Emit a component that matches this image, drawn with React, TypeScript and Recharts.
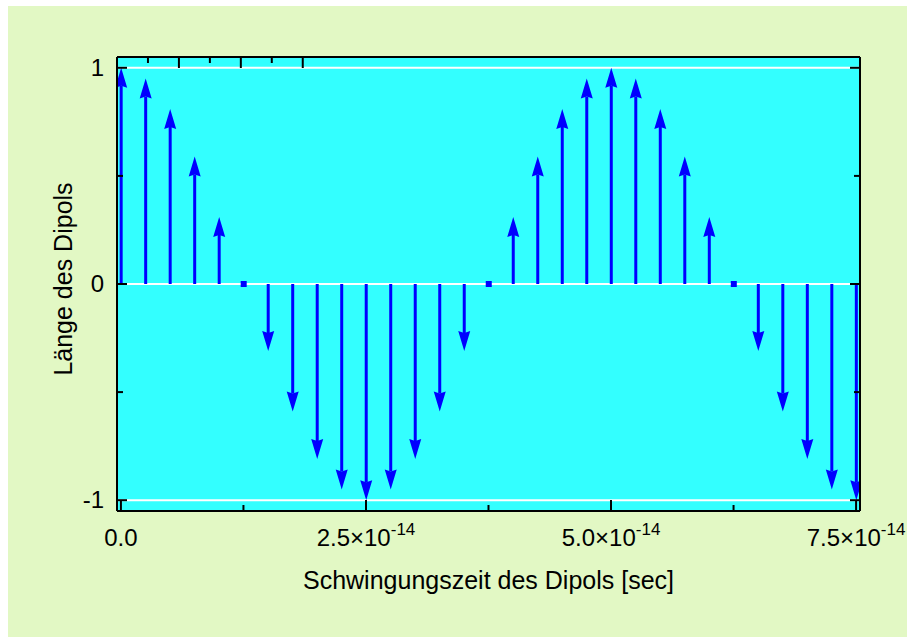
import React from 'react';
import { ComposedChart, Bar, XAxis, YAxis, CartesianGrid, Label } from 'recharts';

// time in units of 10^-14 s
const times = [
  0, 0.25, 0.5, 0.75, 1, 1.25, 1.5, 1.75, 2, 2.25, 2.5, 2.75, 3, 3.25, 3.5, 3.75,
  4, 4.25, 4.5, 4.75, 5, 5.25, 5.5, 5.75, 6, 6.25, 6.5, 6.75, 7, 7.25, 7.5
];
// dipole length
const lengths = [
  1, 0.95, 0.81, 0.59, 0.31, 0, -0.31, -0.59, -0.81, -0.95, -1, -0.95, -0.81, -0.59, -0.31, 0,
  0.31, 0.59, 0.81, 0.95, 1, 0.95, 0.81, 0.59, 0.31, 0, -0.31, -0.59, -0.81, -0.95, -1
];

const xTicks = [0, 1.25, 2.5, 3.75, 5, 6.25, 7.5];
const xTickLabels = ['0.0', '', '2.5', '', '5.0', '', '7.5'];
const yTicks = [-1, -0.5, 0, 0.5, 1];
const yTickLabels = ['-1', '', '0', '', '1'];
const gridLevels = [-1, 0, 1];

const data = times.map((t, i) => ({ t, len: lengths[i] }));

const FONT = '"Liberation Sans", Arial, sans-serif';
const BLUE = '#0000ff';

const Arrow = (props: any) => {
  const { x, y, width, height, payload } = props;
  const cx = x + width / 2;
  const v = payload.len;
  const a = y;
  const b = y + height;
  if (!v) {
    const z = Math.min(a, b);
    return <rect x={cx - 3} y={z - 3} width={6} height={6} fill={BLUE} />;
  }
  const tip = v > 0 ? Math.min(a, b) : Math.max(a, b);
  const zero = v > 0 ? Math.max(a, b) : Math.min(a, b);
  const dir = v > 0 ? 1 : -1;
  const headBase = tip + dir * 20;
  return (
    <g>
      <line x1={cx} x2={cx} y1={zero} y2={headBase - dir * 2} stroke={BLUE} strokeWidth={3} />
      <polygon
        points={`${cx},${tip} ${cx - 6},${headBase} ${cx},${headBase - dir * 2} ${cx + 6},${headBase}`}
        fill={BLUE}
      />
    </g>
  );
};

const LeftTick = (props: any) => {
  const { x, y, payload } = props;
  const label = yTickLabels[yTicks.indexOf(payload.value)];
  const ax = x + 13;
  return (
    <g>
      <line x1={ax} x2={ax + (label ? 10 : 6)} y1={y} y2={y} stroke="#000" strokeWidth={2} />
      {label && (
        <text x={x} y={y + 8} textAnchor="end" fontFamily={FONT} fontSize={24} fill="#000">
          {label}
        </text>
      )}
    </g>
  );
};

const RightTick = (props: any) => {
  const { x, y, payload } = props;
  const label = yTickLabels[yTicks.indexOf(payload.value)];
  return <line x1={x} x2={x - (label ? 10 : 6)} y1={y} y2={y} stroke="#000" strokeWidth={2} />;
};

const BottomTick = (props: any) => {
  const { x, y, payload } = props;
  const label = xTickLabels[xTicks.indexOf(payload.value)];
  return (
    <g>
      <line x1={x} x2={x} y1={y} y2={y - (label ? 11 : 6)} stroke="#000" strokeWidth={2} />
      {label && (
        <text x={x} y={y + 35} textAnchor="middle" fontFamily={FONT} fontSize={24} fill="#000">
          {label === '0.0' ? (
            label
          ) : (
            <>
              {label + '×10'}
              <tspan dy={-11} fontSize={17}>-14</tspan>
            </>
          )}
        </text>
      )}
    </g>
  );
};

const TopTick = (props: any) => {
  const { x, y, payload } = props;
  const label = xTickLabels[xTicks.indexOf(payload.value)];
  return <line x1={x} x2={x} y1={y} y2={y + (label ? 11 : 6)} stroke="#000" strokeWidth={2} />;
};

const axisLine = { stroke: '#000', strokeWidth: 2 };

export default function App() {
  return (
    <div style={{ position: 'fixed', left: 8, top: 6, right: 0, bottom: 0, background: '#e2f8c4' }}>
      <ComposedChart
        width={899}
        height={631}
        data={data}
        margin={{ top: 50, right: 46, bottom: 0, left: 0 }}
      >
        <CartesianGrid
          vertical={false}
          horizontalValues={gridLevels}
          stroke="#ffffff"
          strokeWidth={2}
          fill="#33ffff"
          fillOpacity={1}
        />
        <XAxis
          dataKey="t"
          type="number"
          domain={[-0.04, 7.54]}
          allowDataOverflow
          ticks={xTicks}
          interval={0}
          height={126}
          tickSize={0}
          tickMargin={0}
          tickLine={false}
          axisLine={axisLine}
          tick={<BottomTick />}
        >
          <Label
            content={({ viewBox }: any) => (
              <text
                x={viewBox.x + viewBox.width / 2}
                y={viewBox.y + 78}
                textAnchor="middle"
                fontFamily={FONT}
                fontSize={25}
                fill="#000"
              >
                Schwingungszeit des Dipols [sec]
              </text>
            )}
          />
        </XAxis>
        <XAxis
          xAxisId="top"
          orientation="top"
          type="number"
          domain={[-0.04, 7.54]}
          allowDataOverflow
          ticks={xTicks}
          interval={0}
          height={1}
          tickSize={0}
          tickMargin={0}
          tickLine={false}
          axisLine={axisLine}
          tick={<TopTick />}
        />
        <YAxis
          type="number"
          domain={[-1.05, 1.05]}
          allowDataOverflow
          ticks={yTicks}
          interval={0}
          width={109}
          tickSize={0}
          tickMargin={13}
          tickLine={false}
          axisLine={axisLine}
          tick={<LeftTick />}
        >
          <Label
            content={({ viewBox }: any) => {
              const cx = viewBox.x + 64;
              const cy = viewBox.y + viewBox.height / 2 - 5;
              return (
                <text
                  x={cx}
                  y={cy}
                  transform={`rotate(-90, ${cx}, ${cy})`}
                  textAnchor="middle"
                  fontFamily={FONT}
                  fontSize={25}
                  fill="#000"
                >
                  Länge des Dipols
                </text>
              );
            }}
          />
        </YAxis>
        <YAxis
          yAxisId="right"
          orientation="right"
          type="number"
          domain={[-1.05, 1.05]}
          allowDataOverflow
          ticks={yTicks}
          interval={0}
          width={1}
          tickSize={0}
          tickMargin={0}
          tickLine={false}
          axisLine={axisLine}
          tick={<RightTick />}
        />
        <Bar dataKey="len" barSize={11} shape={<Arrow />} isAnimationActive={false} />
      </ComposedChart>
    </div>
  );
}
